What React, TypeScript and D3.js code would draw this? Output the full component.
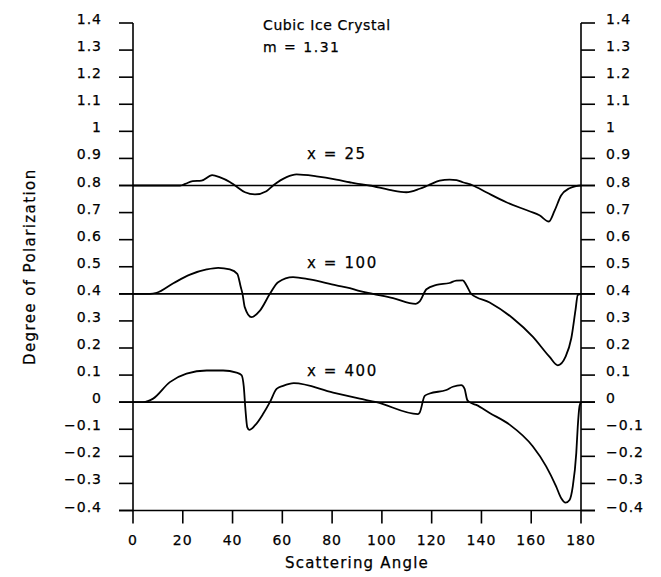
import React from 'react';
import * as d3 from 'd3';

// scattering angle (deg) and degree of polarization
const anglesX25 = [0, 10, 19, 21, 24, 27.5, 31.8, 35, 38.9, 41, 45, 49, 53.6, 56.3, 61.7, 65.7, 73.7, 81.7, 87, 90.4, 95, 103, 109.8, 115.2, 118.5, 123.2, 127.2, 130, 132.5, 136.6, 141.9, 150, 159.3, 163.3, 167.1, 169.4, 172, 175.4, 178, 180];
const polX25 = [0, 0, 0, 0.006, 0.016, 0.018, 0.038, 0.03, 0.013, 0, -0.025, -0.033, -0.021, 0, 0.031, 0.041, 0.034, 0.022, 0.012, 0.006, 0, -0.016, -0.025, -0.012, 0, 0.018, 0.022, 0.02, 0.012, 0, -0.025, -0.062, -0.095, -0.11, -0.133, -0.093, -0.037, -0.01, -0.002, 0];

const anglesX100 = [0, 6.8, 9.5, 16.2, 22.9, 29.6, 34.2, 38.9, 41.9, 43.3, 44, 44.9, 47.6, 51, 55, 58.3, 64.3, 71, 81.7, 87.1, 90.4, 96.4, 104.5, 113.6, 115.2, 117.9, 121.9, 127.2, 129.9, 132.5, 133.9, 135.9, 143.3, 152.6, 160.6, 167.3, 170.7, 173.8, 176.1, 177.8, 178.7, 180];
const polX100 = [0, 0, 0.004, 0.039, 0.071, 0.09, 0.096, 0.09, 0.074, 0.025, 0, -0.049, -0.086, -0.062, 0, 0.043, 0.062, 0.053, 0.031, 0.021, 0.012, 0, -0.016, -0.037, -0.028, 0.017, 0.033, 0.04, 0.049, 0.05, 0.033, 0, -0.032, -0.09, -0.158, -0.232, -0.264, -0.232, -0.164, -0.059, -0.004, 0];

const anglesX400 = [0, 4.1, 8.1, 14.8, 21.5, 29.6, 36.2, 41.6, 43.6, 44.5, 45.2, 45.9, 46.7, 49, 52.3, 55, 57.7, 60.3, 64.6, 80.4, 91.1, 97.8, 114.5, 115.2, 117.2, 119.2, 125.9, 128.5, 131.9, 133.2, 134.3, 135.2, 137.9, 143.3, 151.3, 160.6, 166, 170, 172, 173.8, 175.4, 176.7, 178.1, 178.7, 179.4, 180];
const polX400 = [0, 0, 0.013, 0.074, 0.105, 0.117, 0.117, 0.109, 0.1, 0.058, -0.03, -0.092, -0.102, -0.086, -0.043, 0, 0.049, 0.06, 0.07, 0.035, 0.013, 0, -0.044, -0.038, 0.023, 0.032, 0.045, 0.057, 0.063, 0.05, 0.008, 0, -0.01, -0.04, -0.083, -0.163, -0.237, -0.311, -0.354, -0.371, -0.361, -0.311, -0.188, -0.09, -0.015, 0];

const curveLabels = ['x = 25', 'x = 100', 'x = 400'];
const curveOffsets = [0.8, 0.4, 0];

const xTicks = [0, 20, 40, 60, 80, 100, 120, 140, 160, 180];
const yTicks = [-0.4, -0.3, -0.2, -0.1, 0, 0.1, 0.2, 0.3, 0.4, 0.5, 0.6, 0.7, 0.8, 0.9, 1, 1.1, 1.2, 1.3, 1.4];

const font = '"DejaVu Sans", sans-serif';

export default function App() {
  const width = 661;
  const height = 577;
  const x = d3.scaleLinear().domain([0, 180]).range([133, 581]);
  const y = d3.scaleLinear().domain([-0.4, 1.4]).range([510.5, 23]);
  const tickLen = 14;

  const series = [
    { angles: anglesX25, pol: polX25 },
    { angles: anglesX100, pol: polX100 },
    { angles: anglesX400, pol: polX400 },
  ];

  const fmt = (v: number) => d3.format('.1~f')(v).replace('-', '\u2212');

  const [x0, x1] = x.range();
  const [yb, yt] = y.range();

  return (
    <svg width={width} height={height} style={{ position: 'absolute', left: 0, top: 0, background: '#fff' }}
      fontFamily={font} fill="#000" stroke="#000" strokeWidth={0.25}>
      {/* axes frame (left, right, bottom) */}
      <g strokeWidth={1.6} fill="none">
        <line x1={x0} x2={x0} y1={yt} y2={yb} />
        <line x1={x1} x2={x1} y1={yt} y2={yb} />
        <line x1={x0 - tickLen} x2={x1 + tickLen} y1={yb} y2={yb} />
      </g>

      {/* y ticks both sides */}
      {yTicks.map((t) => (
        <g key={t}>
          <line x1={x0 - tickLen} x2={x0} y1={y(t)} y2={y(t)} strokeWidth={1.6} />
          <line x1={x1} x2={x1 + tickLen} y1={y(t)} y2={y(t)} strokeWidth={1.6} />
          <text x={102} y={y(t) + 1} textAnchor="end" fontSize={14} letterSpacing={1}>
            {fmt(t)}
          </text>
          <text x={606} y={y(t) + 1} textAnchor="start" fontSize={14} letterSpacing={1}>
            {fmt(t)}
          </text>
        </g>
      ))}

      {/* x ticks */}
      {xTicks.map((t) => (
        <g key={t}>
          <line x1={x(t)} x2={x(t)} y1={yb} y2={yb + 13} strokeWidth={1.6} />
          <text x={x(t)} y={545} textAnchor="middle" fontSize={14} letterSpacing={1}>
            {t}
          </text>
        </g>
      ))}

      {/* reference lines */}
      {curveOffsets.map((o) => (
        <line key={o} x1={x0 - tickLen} x2={x1 + tickLen} y1={y(o)} y2={y(o)} strokeWidth={1.6} />
      ))}

      {/* curves */}
      {series.map((s, i) => {
        const line = d3
          .line<number>()
          .x((_, j) => x(s.angles[j]))
          .y((d) => y(d + curveOffsets[i]))
          .curve(d3.curveMonotoneX);
        return <path key={i} d={line(s.pol) || ''} fill="none" strokeWidth={1.8} />;
      })}

      {/* curve labels */}
      {curveLabels.map((l, i) => (
        <text key={l} x={307} y={[159, 268, 376][i]} fontSize={15} letterSpacing={1.6}>
          {l}
        </text>
      ))}

      <text x={263} y={30} fontSize={14} letterSpacing={0.6}>Cubic Ice Crystal</text>
      <text x={263} y={52} fontSize={14} letterSpacing={1.5}>m = 1.31</text>

      <text x={x(90)} y={568} textAnchor="middle" fontSize={15} letterSpacing={1.2}>Scattering Angle</text>
      <text transform={`translate(35, ${(yt + yb) / 2}) rotate(-90)`} textAnchor="middle" fontSize={15} letterSpacing={1.4}>
        Degree of Polarization
      </text>
    </svg>
  );
}
